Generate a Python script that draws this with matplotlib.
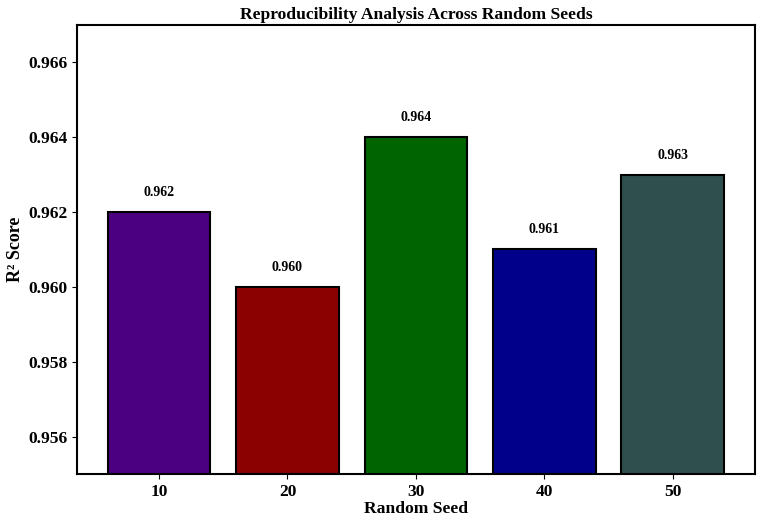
import matplotlib
matplotlib.use("Agg")
import matplotlib.pyplot as plt

# ── Data ──────────────────────────────────────────────────────────────────── #
seeds = ["10", "20", "30", "40", "50"]
r2_scores = [0.962, 0.960, 0.964, 0.961, 0.963]
bar_colors = ["#4B0082", "#8B0000", "#006400", "#00008B", "#2F4F4F"]

plt.rcParams["font.family"] = ["Liberation Serif", "DejaVu Serif"]
plt.rcParams["font.weight"] = "bold"

fig = plt.figure(figsize=(7.64, 5.2), dpi=100)
ax = fig.add_axes([0.1008, 0.0885, 0.887, 0.8635])

x = range(len(seeds))
bars = ax.bar(x, r2_scores, width=0.8, color=bar_colors, edgecolor="black", linewidth=1.5)

for b, v in zip(bars, r2_scores):
    ax.text(b.get_x() + b.get_width() / 2, v + 0.00035, f"{v:.3f}",
            ha="center", va="bottom", fontsize=10, fontweight="bold")

ax.set_ylim(0.955, 0.967)
ax.set_yticks([0.956, 0.958, 0.960, 0.962, 0.964, 0.966])
ax.set_yticklabels([f"{t:.3f}" for t in ax.get_yticks()])
ax.set_xticks(list(x))
ax.set_xticklabels(seeds)
ax.tick_params(labelsize=12.6)
for lbl in ax.get_xticklabels() + ax.get_yticklabels():
    lbl.set_fontweight("bold")

ax.set_xlabel("Random Seed", fontsize=12.6, fontweight="bold", labelpad=1)
ax.set_ylabel("R² Score", fontsize=13, fontweight="bold", labelpad=3)
ax.set_title("Reproducibility Analysis Across Random Seeds", fontsize=12.6, fontweight="bold", pad=4)

for s in ax.spines.values():
    s.set_linewidth(1.5)

fig.savefig("out.png", dpi=100)
